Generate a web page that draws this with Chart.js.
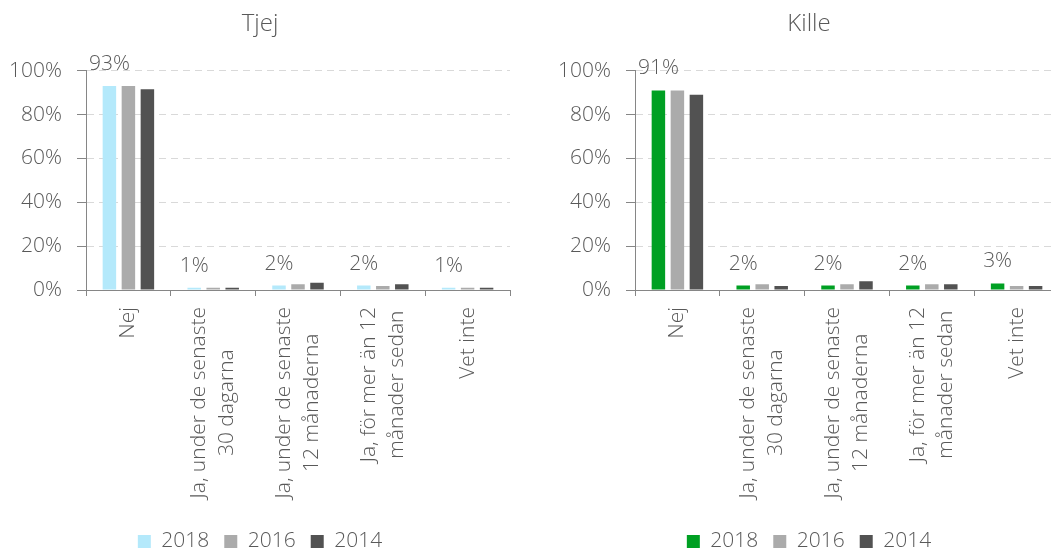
<!DOCTYPE html>
<html>
<head>
<meta charset="utf-8">
<script src="https://cdn.jsdelivr.net/npm/chart.js@4.4.1/dist/chart.umd.min.js"></script>
<style>
    html, body { margin: 0; padding: 0; background: #fff; overflow: hidden; width: 1051px; height: 549px; }
    .chartBox { position: absolute; top: 0; width: 530px; height: 562px; }
    #tjejBox { left: 10px; }
    #killeBox { left: 559px; }
</style>
</head>
<body>
<div class="chartBox" id="tjejBox"><canvas id="tjejChart" width="530" height="562"></canvas></div>
<div class="chartBox" id="killeBox"><canvas id="killeChart" width="530" height="562"></canvas></div>

<script>
var categories = [
    ['Nej'],
    ['Ja, under de senaste', '30 dagarna'],
    ['Ja, under de senaste', '12 månaderna'],
    ['Ja, för mer än 12', 'månader sedan'],
    ['Vet inte']
];
var years = ['2018', '2016', '2014'];

var tjej2018 = [93, 1, 2, 2, 1];
var tjej2016 = [93, 1, 2.6, 1.8, 1];
var tjej2014 = [91.5, 1, 3.3, 2.6, 1];

var kille2018 = [91, 2, 2, 2, 3];
var kille2016 = [91, 2.6, 2.6, 2.6, 1.8];
var kille2014 = [89, 1.8, 4, 2.6, 1.8];

var yTicks = [0, 20, 40, 60, 80, 100];

var textColor = '#595959';
var axisColor = '#868686';
var fontFamily = '"Open Sans", "DejaVu Sans", sans-serif';
var fontSize = 21;

// value labels above the 2018 bars
var valueLabels = {
    id: 'valueLabels',
    afterDatasetsDraw: function (chart) {
        var ctx = chart.ctx;
        var meta = chart.getDatasetMeta(0);
        var data = chart.data.datasets[0].data;
        ctx.save();
        ctx.font = '300 ' + fontSize + 'px ' + fontFamily;
        ctx.fillStyle = textColor;
        ctx.textAlign = 'center';
        ctx.textBaseline = 'alphabetic';
        meta.data.forEach(function (bar, i) {
            ctx.fillText(Math.round(data[i]) + '%', bar.x, bar.y - 16);
        });
        ctx.restore();
    }
};

// rotated category names, lines centred on each other like the office charts do
var categoryLabels = {
    id: 'categoryLabels',
    afterDraw: function (chart) {
        var ctx = chart.ctx;
        var xScale = chart.scales.x;
        var top = xScale.top + 17;
        var pitch = 28;
        ctx.save();
        ctx.font = '300 ' + fontSize + 'px ' + fontFamily;
        ctx.fillStyle = textColor;
        ctx.textAlign = 'center';
        ctx.textBaseline = 'middle';
        chart.data.labels.forEach(function (lines, i) {
            var cx = xScale.getPixelForTick(i);
            var maxW = 0;
            lines.forEach(function (l) { maxW = Math.max(maxW, ctx.measureText(l).width); });
            lines.forEach(function (l, j) {
                var off = (j - (lines.length - 1) / 2) * pitch;
                ctx.save();
                ctx.translate(cx + off, top + maxW / 2);
                ctx.rotate(-Math.PI / 2);
                ctx.fillText(l, 0, 0);
                ctx.restore();
            });
        });
        ctx.restore();
    }
};

function makeChart(canvasId, title, firstColor, d2018, d2016, d2014) {
    var colors = [firstColor, '#ababab', '#525252'];
    var series = [d2018, d2016, d2014];
    var datasets = years.map(function (y, i) {
        return {
            label: y,
            data: series[i],
            backgroundColor: colors[i],
            borderWidth: 0,
            categoryPercentage: 0.672,
            barPercentage: 0.71
        };
    });

    return new Chart(document.getElementById(canvasId), {
        type: 'bar',
        data: { labels: categories, datasets: datasets },
        plugins: [valueLabels, categoryLabels],
        options: {
            responsive: false,
            devicePixelRatio: 1,
            animation: false,
            layout: { padding: { left: 0, right: 30, top: 0, bottom: 0 } },
            plugins: {
                tooltip: { enabled: false },
                title: {
                    display: true,
                    text: title,
                    color: textColor,
                    font: { family: fontFamily, size: 24, weight: '300' },
                    padding: { top: 9.6, bottom: 32.3 }
                },
                legend: {
                    position: 'bottom',
                    labels: {
                        boxWidth: 13,
                        boxHeight: 13,
                        padding: 15,
                        color: textColor,
                        font: { family: fontFamily, size: fontSize, weight: '300' }
                    }
                }
            },
            scales: {
                x: {
                    grid: { drawOnChartArea: false, drawTicks: true, tickLength: 6, tickColor: axisColor, offset: true },
                    border: { color: axisColor, width: 1 },
                    ticks: { display: false },
                    afterFit: function (scale) { scale.height = 226; }
                },
                y: {
                    min: 0,
                    max: 100,
                    afterBuildTicks: function (scale) {
                        scale.ticks = yTicks.map(function (v) { return { value: v }; });
                    },
                    grid: { color: '#d9d9d9', lineWidth: 1, drawTicks: true, tickLength: 9, tickColor: axisColor, tickBorderDash: [] },
                    border: { color: axisColor, width: 1, dash: [7, 5] },
                    ticks: {
                        padding: 15,
                        color: textColor,
                        font: { family: fontFamily, size: fontSize, weight: '300' },
                        callback: function (v) { return v + '%'; }
                    },
                    afterFit: function (scale) { scale.width = 76; }
                }
            }
        }
    });
}

makeChart('tjejChart', 'Tjej', '#b4e9fb', tjej2018, tjej2016, tjej2014);
makeChart('killeChart', 'Kille', '#00a023', kille2018, kille2016, kille2014);
</script>
</body>
</html>
